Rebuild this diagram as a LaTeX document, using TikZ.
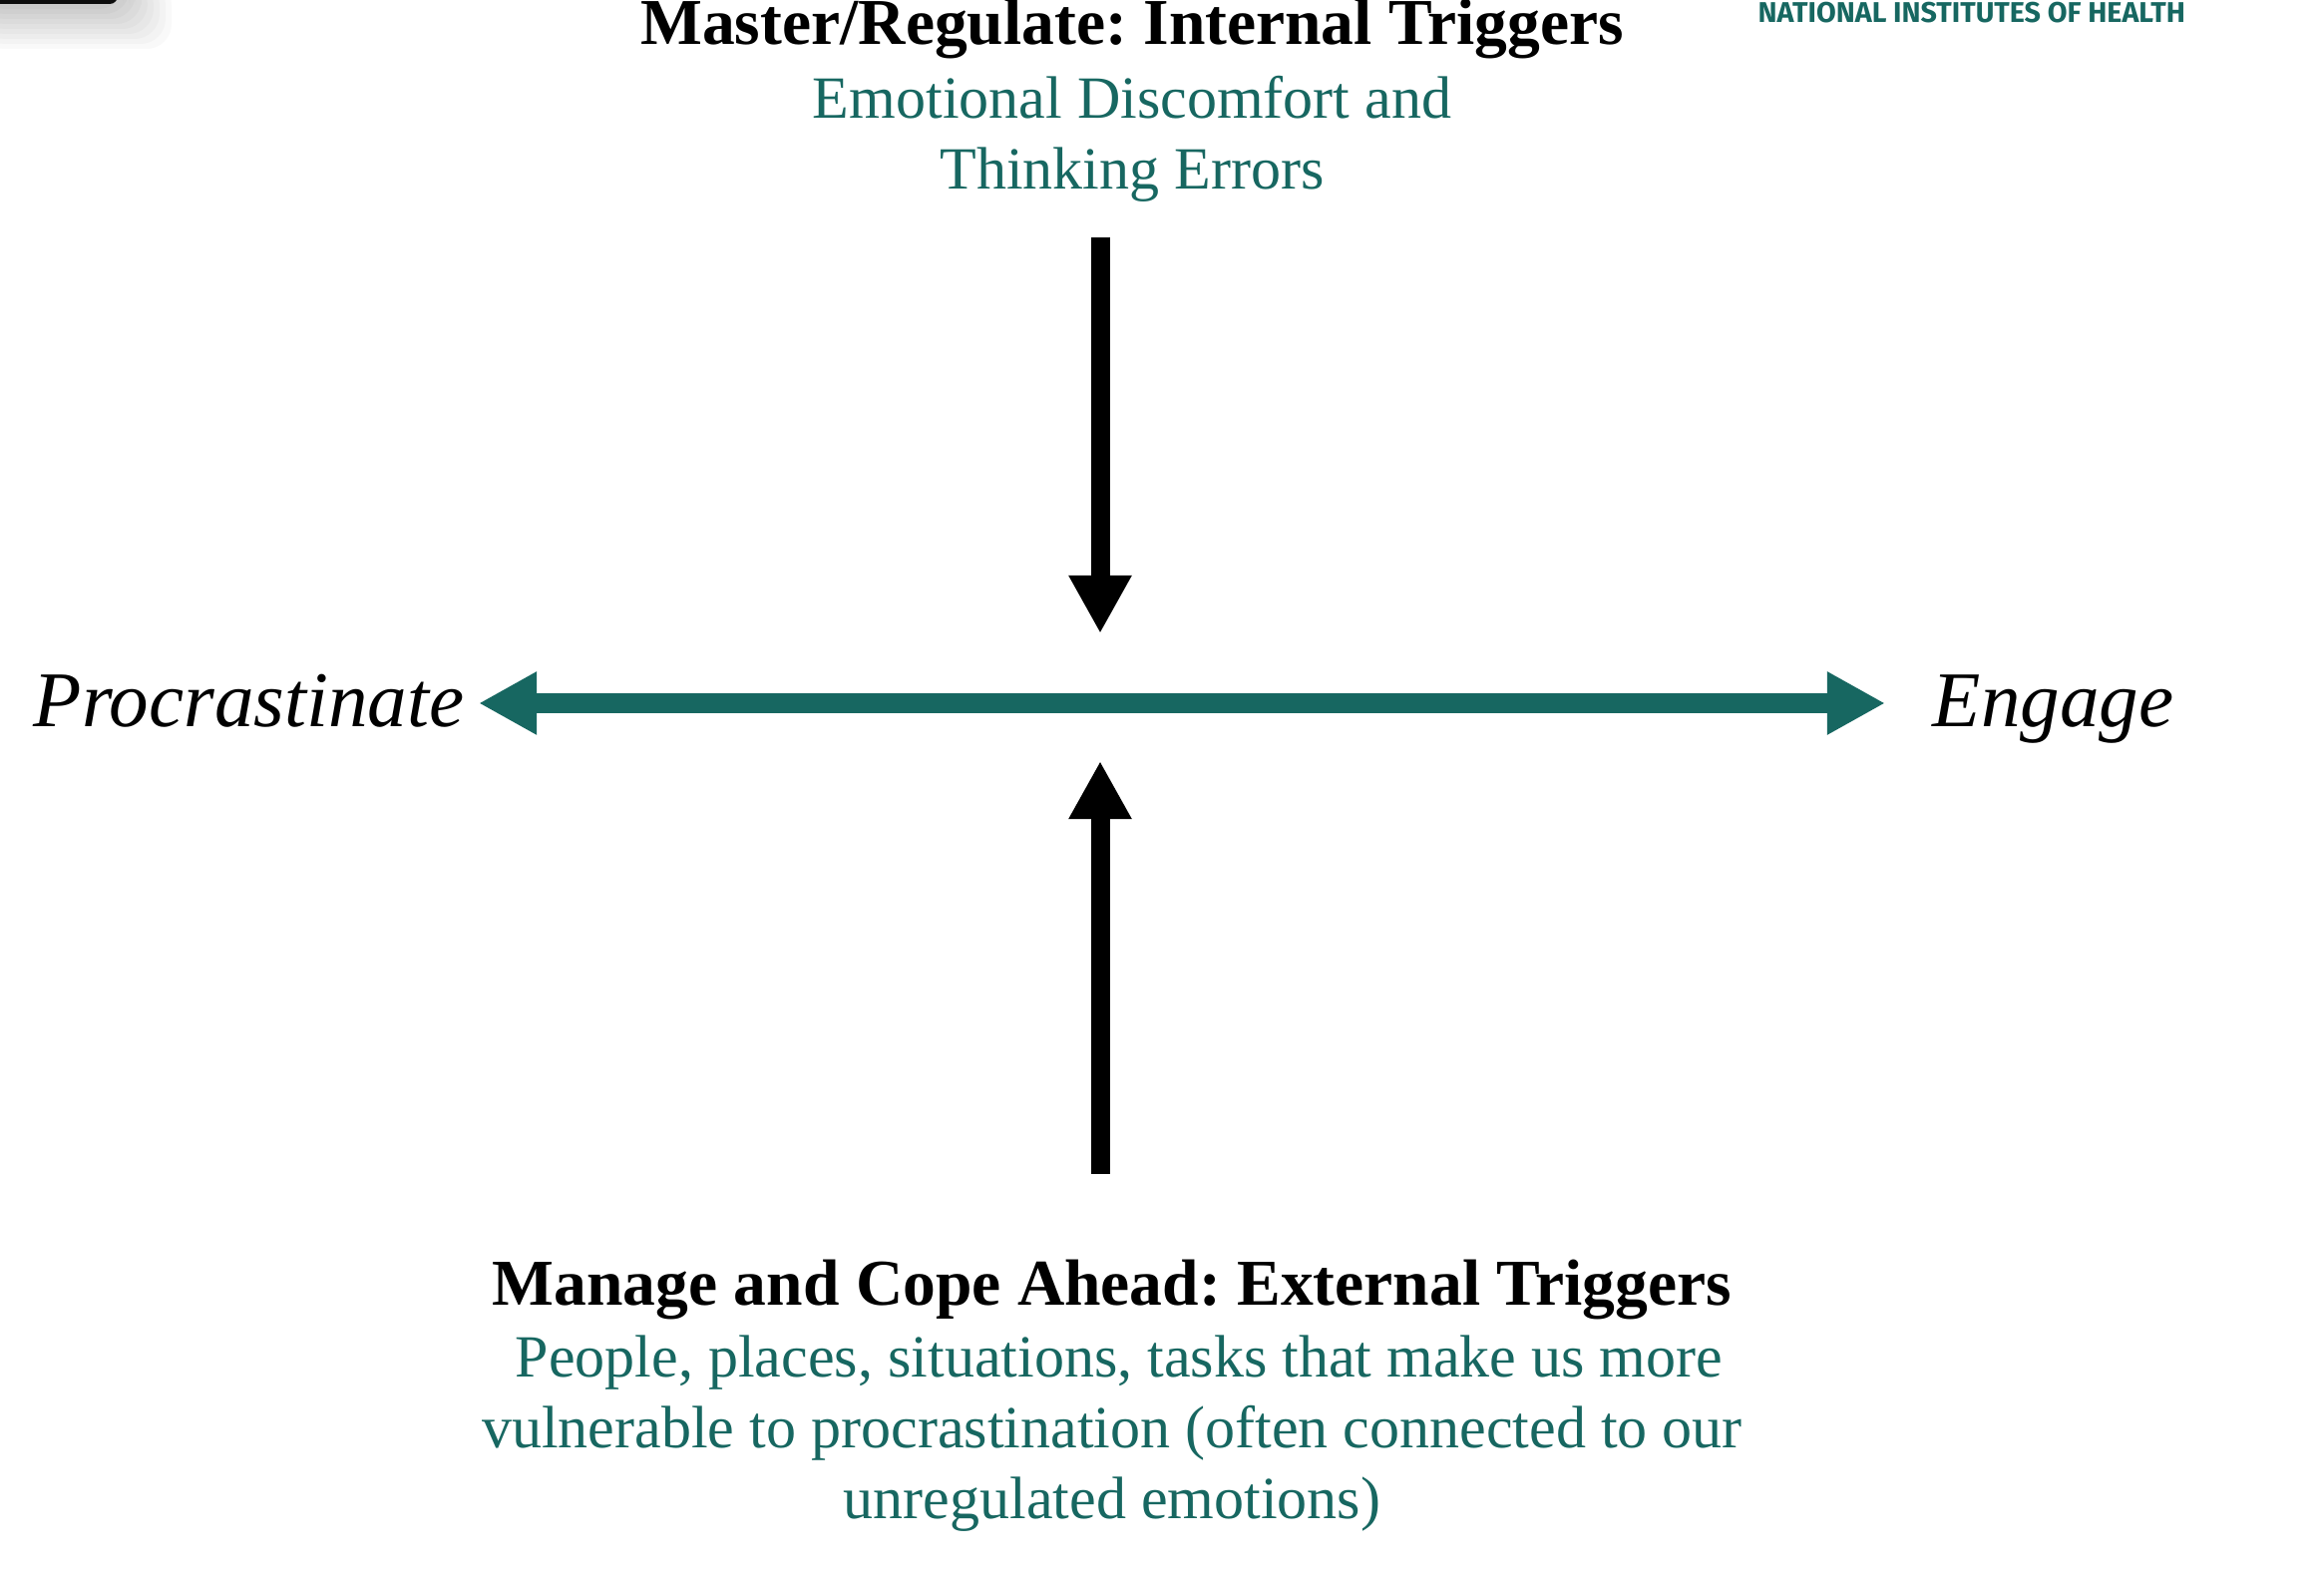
\documentclass[tikz,border=0pt]{standalone}
\usepackage{fontspec}
\setmainfont{Liberation Serif}
\newfontfamily\nihfont{Fira Sans}
\usetikzlibrary{arrows.meta}
\definecolor{nihteal}{RGB}{23,103,97}
\frenchspacing

\begin{document}
\begin{tikzpicture}[x=0.01cm,y=-0.01cm,
  head/.style={font=\bfseries\fontsize{18.64}{22}\selectfont, anchor=base, inner sep=0pt},
  body/.style={text=nihteal, font=\fontsize{17.07}{20}\selectfont, anchor=base, inner sep=0pt},
  pole/.style={font=\itshape\fontsize{22.48}{26}\selectfont, anchor=base west, inner sep=0pt},
  axis/.style={line width=0.2cm, draw=nihteal, {Triangle[length=0.58cm,width=0.59cm]}-{Triangle[length=0.58cm,width=0.59cm]}},
  push/.style={line width=0.19cm, draw=black, -{Triangle[length=0.58cm,width=0.59cm]}}]

% page
\useasboundingbox (0,0) rectangle (2330,1580);
\fill[white] (0,0) rectangle (2330,1580);

% dark tab in the top left corner, with a soft shadow
\foreach \g in {1,...,9}{
  \fill[black, opacity=0.022, rounded corners=0.25cm] (-20,-20) rectangle ({118+6*\g},{4+5*\g});
}
\fill[black!95, rounded corners=0.08cm] (-20,-20) rectangle (118,4);

% agency mark
\node[anchor=base west, inner sep=0pt, text=nihteal] (nih) at (1762,23)
  {\resizebox{4.28cm}{!}{\nihfont\bfseries NATIONAL INSTITUTES OF HEALTH}};

% internal triggers
\node[head] (inthead) at (1135,45) {Master/Regulate: Internal Triggers};
\node[body] (intA) at (1135,119) {Emotional Discomfort and};
\node[body] (intB) at (1135,190) {Thinking Errors};

% the two poles
\node[pole] (proc) at (33,729) {Procrastinate};
\node[pole] (eng) at (1937,729) {Engage};

% external triggers
\node[head] (exthead) at (1115,1308) {Manage and Cope Ahead: External Triggers};
\node[body] (extA) at (1122,1380) {People, places, situations, tasks that make us more};
\node[body] (extB) at (1115,1451) {vulnerable to procrastination (often connected to our};
\node[body] (extC) at (1115,1522) {unregulated emotions)};

% arrows
\coordinate (axL) at (480,705);
\coordinate (axR) at (1890,705);
\coordinate (inS) at (1103,238);
\coordinate (inT) at (1103,635);
\coordinate (exS) at (1103,1177);
\coordinate (exT) at (1103,763);

\draw[axis] (axL) -- (axR);
\draw[push] (inS) -- (inT);
\draw[push] (exS) -- (exT);
\end{tikzpicture}
\end{document}
